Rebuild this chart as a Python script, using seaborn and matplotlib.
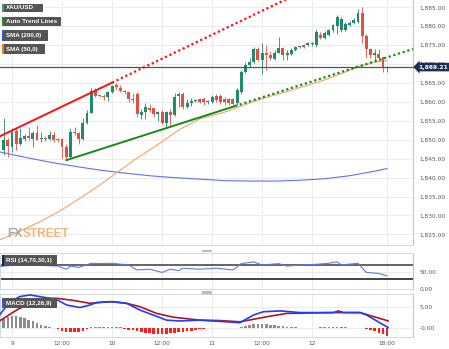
import numpy as np
import matplotlib
matplotlib.use("Agg")
import matplotlib.pyplot as plt
import matplotlib.transforms as mtransforms
from matplotlib.patches import Rectangle
import seaborn as sns

W, H = 449, 349

# ---------------- data ----------------
# hourly XAU/USD candles, hour 0 = day 9 00:00
hours = np.arange(-2, 91)
opens = [1847.3, 1849.9, 1848.2, 1852.4, 1849.0, 1850.3, 1851.0, 1850.3, 1851.8, 1850.1,
         1850.5, 1850.3, 1851.2, 1850.2, 1850.2, 1848.0, 1845.5, 1852.1, 1851.7, 1850.1,
         1854.5, 1857.2, 1863.0, 1861.6, 1861.5, 1861.4, 1862.7, 1864.6, 1863.7, 1862.9,
         1862.5, 1860.9, 1862.1, 1856.5, 1857.4, 1858.3, 1858.3, 1856.8, 1857.4, 1854.5,
         1857.4, 1856.5, 1861.6, 1862.1, 1858.7, 1859.6, 1860.3, 1860.7, 1860.7, 1859.9,
         1860.0, 1861.5, 1861.5, 1860.9, 1860.7, 1860.7, 1859.6, 1862.6, 1868.0, 1869.7,
         1870.6, 1873.9, 1871.1, 1873.0, 1872.4, 1871.3, 1873.0, 1874.2, 1872.4, 1872.6,
         1873.7, 1874.5, 1875.0, 1875.0, 1875.2, 1875.0, 1877.8, 1877.0, 1877.7, 1879.0,
         1880.0, 1879.0, 1879.0, 1880.3, 1880.9, 1881.2, 1883.4, 1877.5, 1873.9, 1872.4,
         1872.7, 1871.8, 1869.0]
highs = [1855.7, 1850.5, 1853.0, 1853.0, 1853.0, 1851.5, 1853.4, 1852.4, 1853.9, 1852.1,
         1851.0, 1852.4, 1852.1, 1850.6, 1850.4, 1849.0, 1853.1, 1853.3, 1852.1, 1855.7,
         1857.9, 1863.6, 1863.6, 1861.8, 1862.0, 1863.0, 1864.6, 1865.1, 1864.5, 1863.1,
         1862.8, 1862.3, 1862.5, 1858.0, 1859.8, 1859.5, 1858.5, 1857.6, 1857.9, 1857.7,
         1858.2, 1862.4, 1862.7, 1862.7, 1860.7, 1861.0, 1860.8, 1861.0, 1861.2, 1860.6,
         1861.8, 1862.0, 1862.0, 1861.3, 1861.0, 1861.0, 1863.6, 1868.4, 1870.5, 1871.5,
         1874.6, 1874.6, 1875.5, 1875.0, 1873.4, 1873.6, 1877.2, 1874.6, 1873.6, 1874.2,
         1874.8, 1874.9, 1875.3, 1875.8, 1875.8, 1879.2, 1878.5, 1878.7, 1879.3, 1880.6,
         1882.9, 1882.4, 1881.0, 1881.3, 1882.1, 1884.5, 1885.0, 1878.0, 1874.3, 1874.0,
         1874.0, 1872.0, 1869.5]
lows = [1846.0, 1845.5, 1846.8, 1847.3, 1848.6, 1849.8, 1849.9, 1848.2, 1849.9, 1849.4,
        1849.8, 1849.9, 1849.3, 1849.5, 1845.1, 1844.6, 1845.1, 1851.2, 1848.9, 1849.9,
        1854.3, 1857.0, 1861.2, 1861.3, 1860.5, 1860.2, 1862.4, 1863.1, 1862.6, 1862.2,
        1860.1, 1859.6, 1856.0, 1855.4, 1855.4, 1857.3, 1856.0, 1855.0, 1854.2, 1853.4,
        1853.4, 1856.3, 1858.7, 1858.0, 1858.3, 1859.0, 1860.1, 1859.7, 1859.2, 1859.5,
        1859.6, 1859.9, 1859.5, 1859.3, 1859.3, 1859.2, 1859.1, 1862.2, 1867.7, 1869.3,
        1870.3, 1870.8, 1867.5, 1868.4, 1871.0, 1871.0, 1872.8, 1871.0, 1871.0, 1872.4,
        1873.4, 1874.3, 1874.3, 1874.8, 1874.9, 1874.4, 1876.5, 1876.6, 1877.3, 1878.6,
        1877.9, 1878.6, 1878.8, 1880.0, 1880.6, 1880.9, 1875.5, 1871.6, 1871.6, 1870.8,
        1870.8, 1867.9, 1868.0]
closes = [1849.9, 1848.3, 1852.1, 1849.0, 1850.6, 1851.0, 1850.5, 1851.8, 1850.0, 1850.5,
          1850.2, 1851.2, 1849.9, 1849.9, 1848.0, 1845.4, 1852.1, 1851.7, 1850.1, 1854.5,
          1857.2, 1863.0, 1861.6, 1861.5, 1861.2, 1862.7, 1864.2, 1864.0, 1863.0, 1862.5,
          1860.9, 1860.5, 1856.8, 1857.4, 1858.6, 1857.9, 1856.8, 1857.4, 1854.5, 1857.4,
          1856.5, 1861.2, 1862.1, 1858.7, 1859.6, 1860.3, 1860.5, 1860.0, 1860.0, 1860.2,
          1861.4, 1860.5, 1860.0, 1860.0, 1859.7, 1859.4, 1863.1, 1868.0, 1869.7, 1870.6,
          1873.9, 1871.1, 1873.0, 1872.4, 1871.5, 1873.0, 1874.2, 1872.4, 1872.8, 1873.7,
          1874.4, 1874.6, 1874.6, 1875.5, 1875.5, 1878.5, 1877.0, 1878.1, 1879.0, 1880.3,
          1882.4, 1881.8, 1880.6, 1880.9, 1881.6, 1883.4, 1877.5, 1873.9, 1872.4, 1873.0,
          1871.7, 1869.3, 1869.21]

# moving averages
sma200_hours = [-3, 3, 9, 15, 21, 27, 33, 39, 45, 51, 57, 63, 69, 75, 81, 87, 90]
sma200_vals = [1846.8, 1845.4, 1844.1, 1843.0, 1842.0, 1841.2, 1840.5, 1840.0, 1839.6,
               1839.2, 1839.1, 1839.1, 1839.3, 1839.7, 1840.5, 1841.7, 1842.4]
sma50_hours = [-3, 2, 7, 11.5, 16, 21, 24, 29, 35.5, 40, 45, 51, 59, 67, 75, 83, 87, 90]
sma50_vals = [1823.5, 1825.9, 1828.5, 1831.2, 1834.3, 1838.0, 1840.4, 1844.4, 1849.1,
              1852.6, 1855.5, 1857.3, 1860.5, 1863.1, 1865.8, 1869.2, 1870.5, 1870.9]

# auto trend line anchors (hour, price)
red_hours = [-2, 24]
red_prices = [1851.4, 1865.1]
green_hours = [13, 53.5]
green_prices = [1844.6, 1858.9]

# RSI (14)
rsi_hours = [-3, 2, 7, 11, 13, 14, 16, 19, 21, 24, 28, 30, 33, 36, 38, 40, 41, 45, 49,
             53, 55, 58, 60, 64, 66, 69, 73, 76, 78, 79, 83, 85, 88, 90]
rsi_vals = [65, 70, 68, 66, 57, 66, 62, 74, 73, 74, 69, 55, 57, 48, 57, 53, 60, 57, 60,
            55, 73, 78, 69, 73, 66, 69, 71, 74, 78, 69, 74, 48, 45, 38.5]

# MACD (12,26,9)
macd_hours = [-3, -0.5, 1.9, 4.3, 6.7, 10.7, 13.1, 16.3, 18.7, 20.3, 24.3, 27.5, 30.7,
              33.9, 37.1, 40.3, 45.1, 54.7, 57.9, 60.3, 64.3, 69.1, 77.1, 78.3, 79.5,
              83.5, 85.1, 90.3]
macd_vals = [3.0, 6.2, 7.4, 7.8, 7.4, 6.7, 5.4, 4.8, 5.4, 6.0, 6.2, 5.8, 4.2, 3.0, 1.8,
             1.6, 1.8, 1.2, 3.0, 3.8, 4.0, 3.6, 3.6, 4.0, 3.6, 3.6, 3.0, 0.0]
signal_hours = [-3, 1.1, 5.1, 8.3, 10.7, 14.7, 18.7, 23.5, 27.5, 30.7, 34.7, 38.7, 45.1,
                49.9, 54.7, 61.1, 65.9, 77.1, 83.5, 90.3]
signal_vals = [1.6, 4.2, 6.2, 7.0, 7.0, 6.5, 5.8, 6.2, 5.8, 5.0, 3.4, 2.5, 1.8, 1.7, 1.4,
               2.6, 3.4, 3.6, 3.6, 1.6]
macd_hist = [2.0, 2.5, 2.8, 2.7, 2.5, 2.2, 1.9, 1.5, 1.1, 0.7,
             0.35, 0.1, -0.15, -0.4, -0.7, -0.95, -1.0, -1.0, -0.95, -0.7,
             -0.4, 0.1, 0.2, 0.25, 0.25, 0.25, 0.2, 0.1, 0.05, -0.2,
             -0.45, -0.65, -0.85, -1.05, -1.2, -1.35, -1.45, -1.5, -1.5, -1.45,
             -1.35, -1.2, -1.05, -0.95, -0.85, -0.7, -0.55, -0.4, -0.2, -0.15,
             -0.15, -0.15, -0.15, -0.12, -0.12, -0.1, -0.1, 0.1, 0.4, 0.7,
             0.95, 1.0, 0.95, 0.85, 0.7, 0.55, 0.4, 0.3, 0.2, 0.15,
             0.08, 0.02, -0.05, -0.08, -0.05, 0.0, 0.05, 0.1, 0.15, 0.2,
             0.2, 0.15, 0.05, 0.0, -0.05, -0.08, -0.1, -0.3, -0.6, -0.9,
             -1.2, -1.6, -2.05]

tick_hours = [0, 12, 24, 36, 48, 60, 72, 90]
tick_labels = ["9", "12:00", "10", "12:00", "11", "12:00", "12", "18:00"]
price_ticks = [1825, 1830, 1835, 1840, 1845, 1850, 1855, 1860, 1865, 1870, 1875, 1880, 1885]

# ---------------- style ----------------
UP, DOWN = "#1f8a6c", "#e0503f"
GRID = "#ebebeb"
LABEL = "#555555"
sns.set_theme(style="white")
plt.rcParams["font.family"] = ["DejaVu Sans"]

fig = plt.figure(figsize=(W / 100, H / 100), dpi=100, facecolor="white")


def panel(top, bottom, right=413):
    return fig.add_axes([0, 1 - bottom / H, right / W, (bottom - top) / H])


ax = panel(0, 245)
ax_rsi = panel(252.7, 289.3)
ax_macd = panel(294, 336.7)
x_lo, x_hi = -2.88, 96.2

for a in (ax, ax_rsi, ax_macd):
    a.set_facecolor("white")
    a.set_xlim(x_lo, x_hi)
    for h in tick_hours:
        a.axvline(h, color=GRID, lw=0.7, zorder=0)
    for side, sp in a.spines.items():
        sp.set_color("#d3d7df")
        sp.set_linewidth(0.7)
    a.spines["right"].set_color("#b9bfca")
    a.yaxis.tick_right()
    a.tick_params(axis="y", length=0, pad=4.5, labelsize=4.2, labelcolor=LABEL)
    a.tick_params(axis="x", length=0)

# ---- price panel ----
ax.set_ylim(1822.2, 1886.93)
for p in price_ticks:
    ax.axhline(p, color=GRID, lw=0.7, zorder=0)
ax.set_yticks(price_ticks)
ax.set_yticklabels([f"{p:,.2f}" for p in price_ticks])
ax.set_xticks([])
ax.spines["top"].set_visible(False)
ax.spines["left"].set_visible(False)

sns.lineplot(x=sma200_hours, y=sma200_vals, ax=ax, color="#5d72f2", lw=0.8, zorder=2)
sns.lineplot(x=sma50_hours, y=sma50_vals, ax=ax, color="#f2a464", lw=0.8, zorder=2)

o, c = np.array(opens), np.array(closes)
hi, lo = np.array(highs), np.array(lows)
col = np.where(c >= o, UP, DOWN)
ax.vlines(hours, lo, hi, colors=col, lw=0.6, zorder=4)
ax.bar(hours, np.maximum(np.abs(c - o), 0.2), bottom=np.minimum(o, c), width=0.7,
       color=col, edgecolor="none", zorder=5)


def on_line(hs, ps, h):
    slope = (ps[1] - ps[0]) / (hs[1] - hs[0])
    return ps[0] + slope * (h - hs[0])


RED, GREEN = "#ff1010", "#178a17"
sns.lineplot(x=[x_lo, red_hours[1]], y=[on_line(red_hours, red_prices, x_lo), red_prices[1]],
             ax=ax, color=RED, lw=1.4, zorder=6)
ax.plot([red_hours[1], x_hi], [red_prices[1], on_line(red_hours, red_prices, x_hi)],
        color=RED, lw=1.6, linestyle=(0, (1, 1.2)), zorder=6)
sns.lineplot(x=green_hours, y=green_prices, ax=ax, color=GREEN, lw=1.4, zorder=6)
ax.plot([green_hours[1], x_hi], [green_prices[1], on_line(green_hours, green_prices, x_hi)],
        color=GREEN, lw=1.6, linestyle=(0, (1, 1.2)), zorder=6)

last = closes[-1]
ax.axhline(last, color="#4a5466", lw=0.9, zorder=7)
trans = mtransforms.blended_transform_factory(ax.transAxes, ax.transData)
ax.text(1.012, last, f"{last:,.2f}", transform=trans, ha="left", va="center",
        fontsize=4.3, color="white", fontweight="bold", clip_on=False, zorder=20,
        bbox=dict(boxstyle="larrow,pad=0.3", facecolor="#1d2f52", edgecolor="none"))

# ---- RSI panel ----
ax_rsi.set_ylim(0, 104)
ax_rsi.axhline(50, color=GRID, lw=0.7, zorder=0)
ax_rsi.axhline(70, color="#3a3a3a", lw=1.1, zorder=2)
ax_rsi.axhline(30, color="#111111", lw=1.1, zorder=2)
sns.lineplot(x=rsi_hours, y=rsi_vals, ax=ax_rsi, color="#5b79f2", lw=0.8, zorder=3)
ax_rsi.set_yticks([0, 50])
ax_rsi.set_yticklabels(["0.00", "50.00"])
ax_rsi.set_xticks([])

# ---- MACD panel ----
ax_macd.set_ylim(-2.14, 8.02)
for v in (0, 5):
    ax_macd.axhline(v, color=GRID, lw=0.7, zorder=0)
hist = np.array(macd_hist)
ax_macd.bar(hours, hist, width=0.62, color=np.where(hist >= 0, "#8c8c8c", "#ff1c1c"),
            edgecolor="none", zorder=2)
sns.lineplot(x=signal_hours, y=signal_vals, ax=ax_macd, color="#b0161c", lw=1.2, zorder=3)
sns.lineplot(x=macd_hours, y=macd_vals, ax=ax_macd, color="#1f3cff", lw=1.2, zorder=4)
ax_macd.set_yticks([0, 5])
ax_macd.set_yticklabels(["-0.00", "5.00"])
ax_macd.set_xticks(tick_hours)
ax_macd.set_xticklabels(tick_labels)
ax_macd.tick_params(axis="x", labelsize=4.2, labelcolor=LABEL, pad=3)

for a in (ax, ax_rsi, ax_macd):
    a.set_xlabel("")
    a.set_ylabel("")

# panel resize handles
for y0 in (249.5, 291.0):
    fig.add_artist(Rectangle((202 / W, 1 - (y0 + 2.5) / H), 10 / W, 2.5 / H,
                             transform=fig.transFigure, facecolor="#bcbcbc",
                             edgecolor="none", zorder=9))

TAG_FONT = ["Liberation Sans", "DejaVu Sans"]


# indicator name tags
def name_tag(text, x0, y0, x1, y1, edge):
    fig.add_artist(Rectangle((x0 / W, 1 - y1 / H), (x1 - x0) / W, (y1 - y0) / H,
                             transform=fig.transFigure, facecolor="#555555",
                             edgecolor="none", zorder=10))
    fig.add_artist(Rectangle((x0 / W, 1 - y1 / H), 1.6 / W, (y1 - y0) / H,
                             transform=fig.transFigure, facecolor=edge,
                             edgecolor="none", zorder=11))
    fig.text((x0 + 4) / W, 1 - (y0 + y1) / 2 / H, text, color="white", fontsize=4.5,
             fontweight="bold", family=TAG_FONT, ha="left", va="center", zorder=12)


name_tag("XAU/USD", 2, 3.5, 43, 12, "#3b9a8c")
name_tag("Auto Trend Lines", 2, 16.5, 61, 26, "#1a9a1a")
name_tag("SMA (200,0)", 2, 30.5, 48, 40.5, "#2f4fff")
name_tag("SMA (50,0)", 2, 44, 45, 54, "#f07f20")
name_tag("RSI (14,70,30,1)", 2, 255, 57, 266, "#222244")
name_tag("MACD (12,26,9)", 2, 298, 57, 308, "#2f4fff")

# watermark
wm_font = ["Liberation Sans", "DejaVu Sans"]
t_fx = fig.text(7 / W, 1 - 237 / H, "FX", fontsize=8.6, fontweight="bold", family=wm_font,
                color="#9a9a9a", alpha=0.85, ha="left", va="baseline", zorder=8)
fig.canvas.draw()
bb = t_fx.get_window_extent()
fig.text((bb.x1 + 0.3) / W, 1 - 237 / H, "STREET", fontsize=8.6, fontweight="bold",
         family=wm_font, color="#efaa6a", alpha=0.85, ha="left", va="baseline", zorder=8)

fig.savefig("out.png", dpi=100, facecolor="white")
